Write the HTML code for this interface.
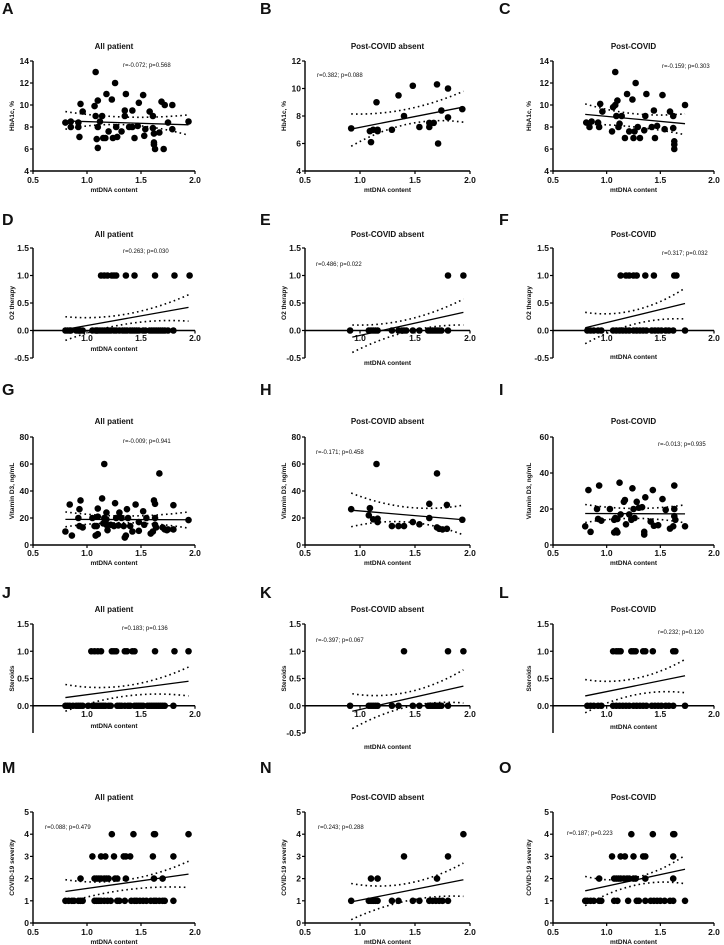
<!DOCTYPE html>
<html><head><meta charset="utf-8">
<style>
html,body{margin:0;padding:0;background:#fff;}
svg{display:block;font-family:"Liberation Sans",Arial,sans-serif;}
</style></head>
<body>
<svg id="fig" width="724" height="945" viewBox="0 0 724 945" xmlns="http://www.w3.org/2000/svg"></svg>
<script>
// ---- Data arrays (top level) ----
const aX=[0.80,0.85,0.85,0.92,0.92,0.93,0.94,0.96,1.07,1.08,1.08,1.10,1.10,1.10,1.09,1.12,1.14,1.15,1.17,1.18,1.20,1.23,1.24,1.26,1.27,1.28,1.32,1.35,1.35,1.36,1.39,1.42,1.42,1.44,1.47,1.48,1.52,1.53,1.54,1.58,1.61,1.61,1.62,1.62,1.62,1.63,1.67,1.69,1.71,1.72,1.75,1.79,1.79,1.94];
const aY=[8.4,8.0,8.5,8.4,8.0,7.1,10.1,9.4,9.9,13,9.0,10.4,8.0,6.1,6.9,8.5,9.0,7.0,7.0,11,7.6,10.5,7.0,12,8.0,7.1,7.6,9.5,9.0,11,8.0,8.0,9.5,7.0,8.1,10.2,10.9,7.2,7.8,9.4,9.0,7.9,7.4,6.6,6.4,6.0,7.5,10.3,6.0,10.0,8.4,7.8,10.0,8.5];
const bX=[0.92,1.09,1.10,1.12,1.15,1.16,1.16,1.29,1.35,1.40,1.48,1.54,1.63,1.63,1.67,1.70,1.71,1.74,1.80,1.80,1.93];
const bY=[7.1,6.9,6.1,7.0,9.0,7.0,6.9,7.0,9.5,8.0,10.2,7.2,7.5,7.2,7.5,10.3,6.0,8.4,7.9,10.0,8.5];
const cX=[0.81,0.84,0.86,0.92,0.93,0.94,0.96,1.05,1.06,1.08,1.08,1.09,1.10,1.11,1.12,1.14,1.17,1.19,1.21,1.24,1.25,1.26,1.27,1.29,1.31,1.35,1.36,1.37,1.42,1.44,1.45,1.47,1.52,1.54,1.59,1.62,1.62,1.63,1.63,1.63,1.73];
const cY=[8.4,8.0,8.5,8.4,8.0,10.1,9.4,7.6,9.8,10.0,13,9.0,10.4,8.0,8.3,9.0,7.0,11,7.6,10.5,7.0,7.6,12,8.0,7.0,7.7,9.0,11,8.0,9.5,7.0,8.1,10.9,7.8,9.4,9.0,7.9,6.7,6.4,6.0,10.0];
const dX=[1.13,1.16,1.19,1.23,1.25,1.27,1.36,1.44,1.63,1.81,1.95,0.80,0.82,0.84,0.85,0.90,0.92,0.93,0.94,0.96,1.05,1.08,1.09,1.10,1.12,1.14,1.16,1.18,1.20,1.22,1.25,1.27,1.30,1.33,1.35,1.37,1.40,1.42,1.44,1.46,1.48,1.52,1.54,1.58,1.60,1.62,1.64,1.66,1.68,1.70,1.72,1.75,1.80];
const dY=[1,1,1,1,1,1,1,1,1,1,1,0,0,0,0,0,0,0,0,0,0,0,0,0,0,0,0,0,0,0,0,0,0,0,0,0,0,0,0,0,0,0,0,0,0,0,0,0,0,0,0,0,0];
const eX=[1.80,1.94,0.91,1.08,1.10,1.12,1.14,1.16,1.29,1.35,1.38,1.40,1.42,1.48,1.54,1.62,1.64,1.66,1.68,1.70,1.72,1.74,1.80];
const eY=[1,1,0,0,0,0,0,0,0,0,0,0,0,0,0,0,0,0,0,0,0,0,0];
const fX=[1.13,1.18,1.21,1.25,1.28,1.36,1.44,1.63,1.65,0.82,0.85,0.88,0.92,0.95,1.06,1.09,1.12,1.15,1.18,1.21,1.25,1.28,1.31,1.34,1.37,1.42,1.45,1.48,1.51,1.55,1.58,1.62,1.73];
const fY=[1,1,1,1,1,1,1,1,1,0,0,0,0,0,0,0,0,0,0,0,0,0,0,0,0,0,0,0,0,0,0,0,0];
const gX=[0.80,0.84,0.86,0.92,0.93,0.94,0.93,0.96,1.05,1.07,1.08,1.10,1.10,1.10,1.09,1.14,1.15,1.16,1.16,1.18,1.18,1.18,1.19,1.22,1.25,1.26,1.27,1.29,1.30,1.32,1.34,1.35,1.36,1.37,1.38,1.40,1.42,1.45,1.48,1.48,1.52,1.53,1.55,1.59,1.61,1.62,1.63,1.63,1.63,1.64,1.67,1.70,1.72,1.74,1.75,1.80,1.80,1.94];
const gY=[10,30,7,20,26.5,33,14,13,20,14,7,8,27,21,14,34.5,16,60,20,24,19,15,11,15,14,31,20,14.5,24,20,14,5.5,7,26.5,20,14,10,30,10.5,17,25,15,20,8.5,10,33,30.5,20,15,13,53,13,11.5,11,11.5,29.5,11.5,18.5];
const hX=[0.92,1.09,1.08,1.12,1.15,1.16,1.16,1.29,1.35,1.40,1.48,1.54,1.63,1.63,1.70,1.70,1.72,1.75,1.79,1.79,1.93];
const hY=[26.5,27.3,22,19,60,19.5,17,14,14,14,17,15.3,30.5,20,53,13,12,11.5,12,29.7,18.7];
const iX=[0.80,0.83,0.85,0.91,0.92,0.93,0.95,1.03,1.07,1.08,1.07,1.09,1.10,1.10,1.12,1.13,1.16,1.17,1.18,1.21,1.23,1.24,1.25,1.26,1.28,1.30,1.33,1.35,1.35,1.36,1.41,1.43,1.44,1.48,1.52,1.55,1.59,1.62,1.63,1.63,1.63,1.64,1.73];
const iY=[10.4,30.5,7.3,20,14.5,33,13.5,20,14,15,7,8,14.5,7,34.6,17,24,25,11.5,17,14,31.5,20,15,24,20.7,21,5.8,7.3,26.5,13,30.5,10.7,11,25.5,19.5,9.1,10.4,20,33,16,14,10.4];
const jX=[1.04,1.07,1.10,1.13,1.23,1.25,1.27,1.35,1.37,1.42,1.44,1.63,1.81,1.94,0.80,0.82,0.84,0.87,0.90,0.92,0.94,0.96,1.01,1.05,1.07,1.09,1.11,1.13,1.15,1.17,1.20,1.22,1.28,1.30,1.32,1.35,1.38,1.40,1.44,1.46,1.48,1.50,1.52,1.56,1.58,1.60,1.62,1.64,1.66,1.68,1.70,1.72,1.80];
const jY=[1,1,1,1,1,1,1,1,1,1,1,1,1,1,0,0,0,0,0,0,0,0,0,0,0,0,0,0,0,0,0,0,0,0,0,0,0,0,0,0,0,0,0,0,0,0,0,0,0,0,0,0,0];
const kX=[1.40,1.80,1.94,0.91,1.08,1.10,1.12,1.14,1.16,1.29,1.35,1.48,1.54,1.62,1.64,1.66,1.68,1.70,1.72,1.74,1.80];
const kY=[1,1,1,0,0,0,0,0,0,0,0,0,0,0,0,0,0,0,0,0,0];
const lX=[1.06,1.09,1.11,1.13,1.23,1.25,1.27,1.34,1.36,1.43,1.62,1.64,0.82,0.85,0.88,0.92,0.95,1.06,1.09,1.12,1.15,1.18,1.21,1.25,1.28,1.31,1.34,1.37,1.42,1.45,1.48,1.51,1.55,1.58,1.62,1.73];
const lY=[1,1,1,1,1,1,1,1,1,1,1,1,0,0,0,0,0,0,0,0,0,0,0,0,0,0,0,0,0,0,0,0,0,0,0,0];
const mX=[1.23,1.43,1.62,1.63,1.94,1.05,1.13,1.17,1.25,1.34,1.36,1.40,1.61,1.80,0.94,1.07,1.09,1.11,1.13,1.16,1.18,1.20,1.26,1.28,1.36,1.62,1.70,0.80,0.83,0.86,0.88,0.92,0.94,0.96,1.07,1.09,1.11,1.13,1.16,1.19,1.22,1.28,1.30,1.35,1.41,1.44,1.46,1.49,1.52,1.55,1.59,1.62,1.64,1.67,1.70,1.72,1.80];
const mY=[4,4,4,4,4,3,3,3,3,3,3,3,3,3,2,2,2,2,2,2,2,2,2,2,2,2,2,1,1,1,1,1,1,1,1,1,1,1,1,1,1,1,1,1,1,1,1,1,1,1,1,1,1,1,1,1,1];
const nX=[1.94,1.40,1.80,1.10,1.16,1.70,0.92,1.08,1.10,1.12,1.14,1.16,1.29,1.35,1.48,1.54,1.63,1.66,1.69,1.72,1.75,1.80];
const nY=[4,3,3,2,2,2,1,1,1,1,1,1,1,1,1,1,1,1,1,1,1,1];
const oX=[1.23,1.43,1.62,1.63,1.05,1.13,1.17,1.25,1.34,1.36,1.62,0.93,1.07,1.09,1.11,1.13,1.16,1.19,1.21,1.25,1.27,1.36,1.62,0.80,0.82,0.85,0.88,0.93,0.95,1.07,1.10,1.20,1.28,1.30,1.36,1.41,1.44,1.47,1.50,1.54,1.59,1.62,1.73];
const oY=[4,4,4,4,3,3,3,3,3,3,3,2,2,2,2,2,2,2,2,2,2,2,2,1,1,1,1,1,1,1,1,1,1,1,1,1,1,1,1,1,1,1,1];
const fitX={A:[0.80,1.94],B:[0.92,1.94],C:[0.80,1.73],D:[0.80,1.94],E:[0.93,1.94],F:[0.80,1.73],G:[0.80,1.94],H:[0.92,1.94],I:[0.80,1.73],J:[0.80,1.94],K:[0.93,1.94],L:[0.80,1.73],M:[0.80,1.94],N:[0.92,1.94],O:[0.80,1.73]};
const fitY={A:[8.55,8.2],B:[7.05,8.65],C:[9.15,8.3],D:[0.02,0.42],E:[-0.12,0.33],F:[0.05,0.49],G:[19.0,18.7],H:[25.8,18.7],I:[17.5,17.3],J:[0.15,0.45],K:[-0.1,0.36],L:[0.18,0.55],M:[1.42,2.2],N:[0.95,1.95],O:[1.45,2.42]};
const ciUp={A:[9.4,8.9,9.1],B:[8.15,8.5,9.8],C:[10.1,9.2,9.2],D:[0.25,0.3,0.65],E:[0.1,0.2,0.57],F:[0.33,0.37,0.77],G:[24.5,21.5,24.5],H:[38.5,28,29.5],I:[22.5,20.3,22.3],J:[0.39,0.37,0.71],K:[0.22,0.25,0.66],L:[0.48,0.5,0.85],M:[1.95,1.95,2.78],N:[1.78,1.78,2.7],O:[2.1,2.05,3.05]};
const ciLo={A:[7.8,8.2,7.25],B:[5.8,7.4,7.55],C:[8.25,8.0,7.3],D:[-0.18,0.12,0.17],E:[-0.4,-0.02,0.1],F:[-0.24,0.12,0.21],G:[13.5,16.5,12.5],H:[13.5,17,7.5],I:[12.5,14.8,12.3],J:[-0.1,0.18,0.18],K:[-0.42,-0.02,0.05],L:[-0.13,0.2,0.24],M:[0.9,1.5,1.6],N:[0.15,1.0,1.2],O:[0.78,1.7,1.77]};
const stats={A:"r=-0.072; p=0.568",B:"r=0.382; p=0.088",C:"r=-0.159; p=0.303",D:"r=0.263; p=0.030",E:"r=0.486; p=0.022",F:"r=0.317; p=0.032",G:"r=-0.009; p=0.941",H:"r=-0.171; p=0.458",I:"r=-0.013; p=0.935",J:"r=0.183; p=0.136",K:"r=-0.397; p=0.067",L:"r=0.232; p=0.120",M:"r=0.088; p=0.479",N:"r=0.243; p=0.288",O:"r=0.187; p=0.223"};
const titles=["All patient","Post-COVID absent","Post-COVID"];
const yTitles=["HbA1c, %","O2 therapy","Vitamin D3, ng/mL","Steroids","COVID-19 severity"];
const xTicks=[0.5,1.0,1.5,2.0];

const colG=[{ax:33,x2:195,yl:14,lx:2},{ax:305,x2:470,yl:286,lx:260},{ax:553,x2:714,yl:531,lx:499}];
const rowG=[
 {letterY:14,titleY:49,top:61,bot:171,xlabY:183,xtY:[192,192,192],zero:false},
 {letterY:225,titleY:237,top:248,bot:358,xlabY:341,xtY:[351,365,359],zero:true},
 {letterY:395,titleY:424,top:437,bot:545,xlabY:556,xtY:[565,565,565],zero:false},
 {letterY:598,titleY:612,top:624,bot:733,xlabY:717,xtY:[728,749,729],zero:true},
 {letterY:773,titleY:800,top:812,bot:923,xlabY:935,xtY:[944,944,944],zero:false}];
const statPos={A:[123,67],B:[317,77],C:[662,68],D:[123,253],E:[316,266],F:[662,255],G:[123,443],H:[316,454],I:[658,446],J:[122,630],K:[316,642],L:[658,634],M:[45,829],N:[318,829],O:[567,835]};
const panels=[
 {id:"A",r:0,c:0,x:aX,y:aY,dom:[4,14],ticks:[4,6,8,10,12,14],dec:0},
 {id:"B",r:0,c:1,x:bX,y:bY,dom:[4,12],ticks:[4,6,8,10,12],dec:0},
 {id:"C",r:0,c:2,x:cX,y:cY,dom:[4,14],ticks:[4,6,8,10,12,14],dec:0},
 {id:"D",r:1,c:0,x:dX,y:dY,dom:[-0.5,1.5],ticks:[-0.5,0,0.5,1,1.5],dec:1},
 {id:"E",r:1,c:1,x:eX,y:eY,dom:[-0.5,1.5],ticks:[-0.5,0,0.5,1,1.5],dec:1},
 {id:"F",r:1,c:2,x:fX,y:fY,dom:[-0.5,1.5],ticks:[-0.5,0,0.5,1,1.5],dec:1},
 {id:"G",r:2,c:0,x:gX,y:gY,dom:[0,80],ticks:[0,20,40,60,80],dec:0},
 {id:"H",r:2,c:1,x:hX,y:hY,dom:[0,80],ticks:[0,20,40,60,80],dec:0},
 {id:"I",r:2,c:2,x:iX,y:iY,dom:[0,60],ticks:[0,20,40,60],dec:0},
 {id:"J",r:3,c:0,x:jX,y:jY,dom:[-0.5,1.5],ticks:[0,0.5,1,1.5],dec:1},
 {id:"K",r:3,c:1,x:kX,y:kY,dom:[-0.5,1.5],ticks:[-0.5,0,0.5,1,1.5],dec:1},
 {id:"L",r:3,c:2,x:lX,y:lY,dom:[-0.5,1.5],ticks:[0,0.5,1,1.5],dec:1},
 {id:"M",r:4,c:0,x:mX,y:mY,dom:[0,5],ticks:[0,1,2,3,4,5],dec:0},
 {id:"N",r:4,c:1,x:nX,y:nY,dom:[0,5],ticks:[0,1,2,3,4,5],dec:0},
 {id:"O",r:4,c:2,x:oX,y:oY,dom:[0,5],ticks:[0,1,2,3,4,5],dec:0}];

const NS="http://www.w3.org/2000/svg";
const fig=document.getElementById("fig");
function mk(tag,attrs,parent,text){const e=document.createElementNS(NS,tag);for(const k in attrs)e.setAttribute(k,attrs[k]);if(text!==undefined)e.textContent=text;parent.appendChild(e);return e;}

panels.forEach(p=>{
 const cg=colG[p.c], rg=rowG[p.r];
 const sx=v=>cg.ax+(v-0.5)/1.5*(cg.x2-cg.ax);
 const sy=v=>rg.bot-(v-p.dom[0])/(p.dom[1]-p.dom[0])*(rg.bot-rg.top);
 const g=mk("g",{},fig);
 
 
 const L=mk("text",{x:cg.lx,y:rg.letterY,"font-size":16,"font-weight":"bold",fill:"#111"},g,p.id);
 
 
 const T=mk("text",{x:(cg.ax+cg.x2)/2,y:rg.titleY,"font-size":8,"font-weight":"bold","text-anchor":"middle",fill:"#111"},g,titles[p.c]);
 
 
 const ya=mk("line",{x1:cg.ax,y1:rg.top,x2:cg.ax,y2:rg.bot,stroke:"#000","stroke-width":1.4},g);
 
 
 p.ticks.forEach(t=>{
  const yy=sy(t);
  mk("line",{x1:cg.ax-3,y1:yy,x2:cg.ax,y2:yy,stroke:"#000","stroke-width":1.2},g);
  const tl=mk("text",{x:cg.ax-4,y:yy+3,"font-size":8.5,"font-weight":"bold","text-anchor":"end",fill:"#111"},g,t.toFixed(p.dec));
  
  
 });
 const yt=mk("text",{x:0,y:0,"font-size":6.5,"font-weight":"bold","text-anchor":"middle",fill:"#111",transform:`translate(${cg.yl},${(rg.top+rg.bot)/2}) rotate(-90)`},g,yTitles[p.r]);
 
 
 const xy=rg.zero?sy(0):rg.bot;
 const xa=mk("line",{x1:cg.ax,y1:xy,x2:cg.x2,y2:xy,stroke:"#000","stroke-width":1.4},g);
 
 
 xTicks.forEach(t=>{
  const xx=sx(t);
  mk("line",{x1:xx,y1:xy,x2:xx,y2:xy+3,stroke:"#000","stroke-width":1.2},g);
  if(rg.zero&&t===0.5)return;
  const tl=mk("text",{x:xx,y:rg.xlabY,"font-size":8.5,"font-weight":"bold","text-anchor":"middle",fill:"#111"},g,t.toFixed(1));
  
  
 });
 const xt=mk("text",{x:(cg.ax+cg.x2)/2,y:rg.xtY[p.c],"font-size":6.5,"font-weight":"bold","text-anchor":"middle",fill:"#111"},g,"mtDNA content");
 
 
 const sp=statPos[p.id];
 const st=mk("text",{x:sp[0],y:sp[1],"font-size":6,fill:"#111"},g,stats[p.id]);
 
 
 p.x.forEach((xv,i)=>{
  const c=mk("circle",{cx:sx(xv),cy:sy(p.y[i]),r:3.3,fill:"#000"},g);
  
  
 });
 const fx=fitX[p.id], fy=fitY[p.id];
 const fl=mk("line",{x1:sx(fx[0]),y1:sy(fy[0]),x2:sx(fx[1]),y2:sy(fy[1]),stroke:"#000","stroke-width":1.3},g);
 
 
 [ciUp[p.id],ciLo[p.id]].forEach((arr,k)=>{
  const xm=(fx[0]+fx[1])/2;
  const p0=[sx(fx[0]),sy(arr[0])],p1=[sx(xm),sy(arr[1])],p2=[sx(fx[1]),sy(arr[2])];
  const c=[2*p1[0]-(p0[0]+p2[0])/2,2*p1[1]-(p0[1]+p2[1])/2];
  const path=mk("path",{d:`M${p0[0]},${p0[1]} Q${c[0]},${c[1]} ${p2[0]},${p2[1]}`,fill:"none",stroke:"#000","stroke-width":1.6,"stroke-dasharray":"1.6 3.2"},g);
  
  
 });
});
</script>
</body></html>
